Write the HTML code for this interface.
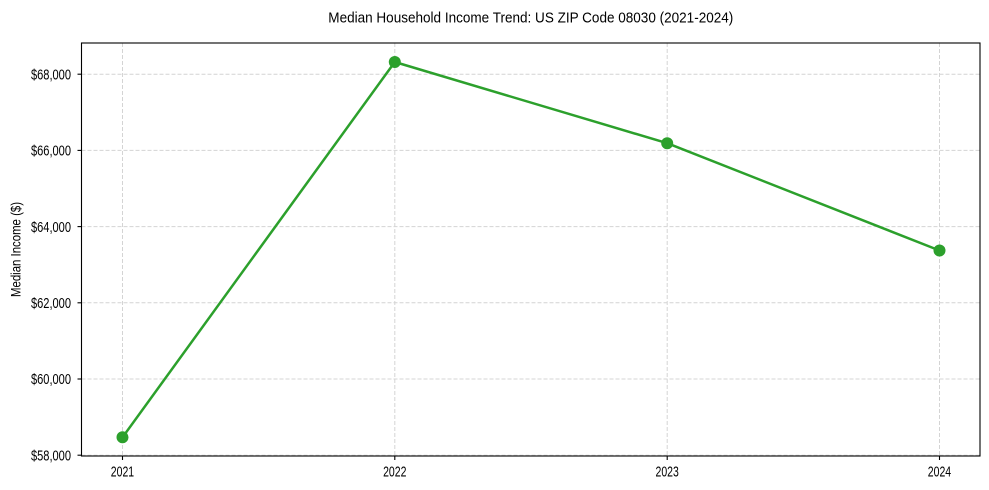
<!DOCTYPE html>
<html>
<head>
<meta charset="utf-8">
<style>
  html, body { margin: 0; padding: 0; background: #ffffff; }
  svg { display: block; }
  text { font-family: "Liberation Sans", Arial, sans-serif; fill: #000; }
</style>
</head>
<body>
<svg width="989" height="490" viewBox="0 0 989 490" xmlns="http://www.w3.org/2000/svg">
  <rect x="0" y="0" width="989" height="490" fill="#ffffff"/>

  <!-- Title -->
  <text x="328.3" y="22.3" font-size="15.2" textLength="405" lengthAdjust="spacingAndGlyphs">Median Household Income Trend: US ZIP Code 08030 (2021-2024)</text>

  <!-- Grid -->
  <g stroke="#d4d4d4" stroke-width="1" stroke-dasharray="4,2" fill="none">
    <line x1="122.5" y1="43" x2="122.5" y2="456"/>
    <line x1="394.8" y1="43" x2="394.8" y2="456"/>
    <line x1="667.2" y1="43" x2="667.2" y2="456"/>
    <line x1="939.5" y1="43" x2="939.5" y2="456"/>
    <line x1="81.5" y1="74.2" x2="980" y2="74.2"/>
    <line x1="81.5" y1="150.4" x2="980" y2="150.4"/>
    <line x1="81.5" y1="226.6" x2="980" y2="226.6"/>
    <line x1="81.5" y1="302.8" x2="980" y2="302.8"/>
    <line x1="81.5" y1="379" x2="980" y2="379"/>
    <line x1="81.5" y1="455.2" x2="980" y2="455.2"/>
  </g>

  <!-- Axes frame -->
  <rect x="81.5" y="43" width="898.5" height="413" fill="none" stroke="#000" stroke-width="1.1"/>

  <!-- Y ticks -->
  <g stroke="#000" stroke-width="1.1">
    <line x1="77.5" y1="74.2" x2="81.5" y2="74.2"/>
    <line x1="77.5" y1="150.4" x2="81.5" y2="150.4"/>
    <line x1="77.5" y1="226.6" x2="81.5" y2="226.6"/>
    <line x1="77.5" y1="302.8" x2="81.5" y2="302.8"/>
    <line x1="77.5" y1="379" x2="81.5" y2="379"/>
    <line x1="77.5" y1="455.2" x2="81.5" y2="455.2"/>
  </g>
  <g font-size="14.5">
    <text x="31" y="79.4" textLength="40" lengthAdjust="spacingAndGlyphs">$68,000</text>
    <text x="31" y="155.6" textLength="40" lengthAdjust="spacingAndGlyphs">$66,000</text>
    <text x="31" y="231.8" textLength="40" lengthAdjust="spacingAndGlyphs">$64,000</text>
    <text x="31" y="308" textLength="40" lengthAdjust="spacingAndGlyphs">$62,000</text>
    <text x="31" y="384.2" textLength="40" lengthAdjust="spacingAndGlyphs">$60,000</text>
    <text x="31" y="460.4" textLength="40" lengthAdjust="spacingAndGlyphs">$58,000</text>
  </g>

  <!-- X ticks -->
  <g stroke="#000" stroke-width="1.1">
    <line x1="122.5" y1="456" x2="122.5" y2="460"/>
    <line x1="394.8" y1="456" x2="394.8" y2="460"/>
    <line x1="667.2" y1="456" x2="667.2" y2="460"/>
    <line x1="939.5" y1="456" x2="939.5" y2="460"/>
  </g>
  <g font-size="14.5">
    <text x="110.8" y="476.7" textLength="23.3" lengthAdjust="spacingAndGlyphs">2021</text>
    <text x="383.1" y="476.7" textLength="23.3" lengthAdjust="spacingAndGlyphs">2022</text>
    <text x="655.5" y="476.7" textLength="23.3" lengthAdjust="spacingAndGlyphs">2023</text>
    <text x="927.8" y="476.7" textLength="23.3" lengthAdjust="spacingAndGlyphs">2024</text>
  </g>

  <!-- Y label -->
  <text transform="translate(20.7,249.5) rotate(-90)" x="-47.5" y="0" font-size="13.5" textLength="95" lengthAdjust="spacingAndGlyphs">Median Income ($)</text>

  <!-- Series -->
  <polyline points="122.5,437.3 394.8,62 667.2,143.2 939.5,250.5" fill="none" stroke="#2ca02c" stroke-width="2.5" stroke-linejoin="round" stroke-linecap="round"/>
  <g fill="#2ca02c">
    <circle cx="122.5" cy="437.3" r="6"/>
    <circle cx="394.8" cy="62" r="6"/>
    <circle cx="667.2" cy="143.2" r="6"/>
    <circle cx="939.5" cy="250.5" r="6"/>
  </g>
</svg>
</body>
</html>
